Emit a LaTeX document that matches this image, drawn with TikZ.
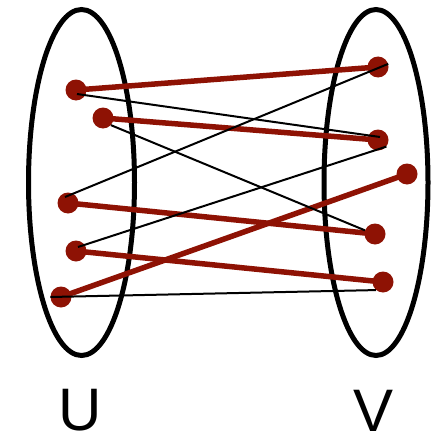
\documentclass[tikz,border=0pt]{standalone}
\usepackage{fontspec}
\setmainfont{Liberation Sans}
\usetikzlibrary{backgrounds}
\definecolor{m}{RGB}{142,18,4}

\begin{document}
\begin{tikzpicture}[x=1pt,y=-1pt,dot/.style={circle,fill=m,inner sep=0pt,minimum size=21pt},
match/.style={m,line width=5.5pt},other/.style={black,line width=2pt},set/.style={line width=5pt},
lbl/.style={inner sep=0pt,font=\fontsize{60}{60}\selectfont}]
\useasboundingbox (0,0) rectangle (435,436);
% left side
\node[dot] (u1) at (76,90){};\node[dot] (u2) at (103,118){};\node[dot] (u3) at (68,203){};\node[dot] (u4) at (76,251){};\node[dot] (u5) at (61,297){};
% right side
\node[dot] (v1) at (378,67){};\node[dot] (v2) at (378,140){};\node[dot] (v3) at (407,174){};\node[dot] (v4) at (375,234){};\node[dot] (v5) at (383,282){};
\begin{pgfonlayer}{background}
\draw[set] (81.5,182.5) ellipse [x radius=53,y radius=173];\draw[set] (376,182.5) ellipse [x radius=52,y radius=173];
\draw[match] (u1.center)--(v1.center);\draw[match] (u2.center)--(v2.center);\draw[match] (u3.center)--(v4.center);
\draw[match] (u4.center)--(v5.center);\draw[match] (u5.center)--(v3.center);
\end{pgfonlayer}
\draw[other] ([shift={(1,4)}]u1.center)--([shift={(2,-3)}]v2.center);
\draw[other] (u2.-42)--(v4.160);
\draw[other] ([shift={(-3,-6)}]u3.center)--(v1.17);
\draw[other] ([shift={(2,-4)}]u4.center)--(v2.-38);
\draw[other] (u5.west)--(v5.-131);
\node[lbl] (U) at (80,410.5){U};\node[lbl] (V) at (374,410.5){V};
\end{tikzpicture}
\end{document}
